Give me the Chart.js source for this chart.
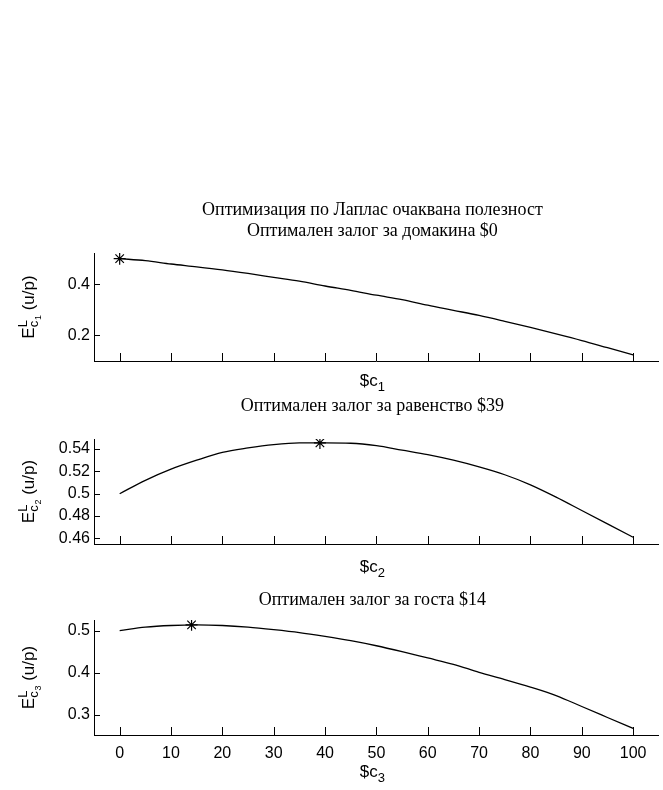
<!DOCTYPE html>
<html>
<head>
<meta charset="utf-8">
<script src="https://cdn.jsdelivr.net/npm/chart.js@4.4.1/dist/chart.umd.min.js"></script>
<style>
  html, body { margin: 0; padding: 0; background: #fff; overflow: hidden; width: 663px; height: 790px; }
  #wrap { position: relative; width: 663px; height: 790px; overflow: hidden; }
  canvas { position: absolute; left: 0; top: 0; }
</style>
</head>
<body>
<div id="wrap">
  <canvas id="hostChart" width="666" height="790"></canvas>
  <canvas id="drawChart" width="666" height="790"></canvas>
  <canvas id="guestChart" width="666" height="790"></canvas>
</div>
<script>
// Stake in dollars (x) and Laplace expected utility per outcome
const stakes = [0, 5, 10, 15, 20, 25, 30, 35, 40, 45, 50, 55, 60, 65, 70, 75, 80, 85, 90, 95, 100];
const hostUtility  = [0.500, 0.492, 0.479, 0.468, 0.456, 0.442, 0.427, 0.412, 0.393, 0.376, 0.357,
                      0.340, 0.318, 0.298, 0.278, 0.255, 0.231, 0.206, 0.180, 0.152, 0.124];
const drawUtility  = [0.500, 0.512, 0.522, 0.530, 0.537, 0.541, 0.544, 0.5455, 0.5455, 0.5452, 0.543,
                      0.539, 0.535, 0.530, 0.524, 0.517, 0.508, 0.497, 0.485, 0.473, 0.461];
const guestUtility = [0.500, 0.508, 0.512, 0.5135, 0.512, 0.508, 0.502, 0.495, 0.486, 0.476, 0.464,
                      0.450, 0.435, 0.420, 0.401, 0.384, 0.366, 0.346, 0.320, 0.294, 0.268];

// Optimal stakes (marked with an asterisk)
const hostBest  = [0, 0.500];
const drawBest  = [39, 0.5455];
const guestBest = [14, 0.5135];

// Tick labels
const stakeTicks = [0, 10, 20, 30, 40, 50, 60, 70, 80, 90, 100];
const hostTicks  = [0.2, 0.4];
const drawTicks  = [0.46, 0.48, 0.5, 0.52, 0.54];
const guestTicks = [0.3, 0.4, 0.5];

// Titles
const hostTitle  = ['Оптимизация по Лаплас очаквана полезност', 'Оптимален залог за домакина $0'];
const drawTitle  = ['Оптимален залог за равенство $39'];
const guestTitle = ['Оптимален залог за госта $14'];

const SANS = '"Liberation Sans", Arial, Helvetica, sans-serif';
const SERIF = '"Liberation Serif", "Times New Roman", serif';

// Draw a run of text pieces (with sub/superscripts) centred on (cx, cy), optionally rotated
function drawRich(ctx, parts, cx, cy, rotate) {
  ctx.save();
  ctx.translate(cx, cy);
  if (rotate) ctx.rotate(-Math.PI / 2);
  ctx.fillStyle = '#000';
  ctx.textBaseline = 'alphabetic';
  ctx.textAlign = 'left';
  let cursor = 0, stackStart = 0, stackMax = 0;
  const placed = [];
  parts.forEach(p => {
    ctx.font = p.size + 'px ' + SANS;
    const w = ctx.measureText(p.t).width;
    if (p.stack === 'start') {
      stackStart = cursor; stackMax = w;
      placed.push({p, x: cursor});
      cursor = stackStart + w;
    } else if (p.stack === 'with') {
      placed.push({p, x: stackStart});
      stackMax = Math.max(stackMax, w);
      cursor = stackStart + stackMax;
    } else {
      placed.push({p, x: cursor});
      cursor += w;
    }
  });
  const total = cursor;
  placed.forEach(({p, x}) => {
    ctx.font = p.size + 'px ' + SANS;
    ctx.fillText(p.t, x - total / 2, p.dy);
  });
  ctx.restore();
}

function yLabelParts(idx) {
  return [
    {t: 'E', size: 17, dy: 6},
    {t: 'L', size: 13, dy: -1, stack: 'start'},
    {t: 'c', size: 13, dy: 10, stack: 'with'},
    {t: idx, size: 9, dy: 13},
    {t: ' (u/p)', size: 17, dy: 6}
  ];
}

function xLabelParts(idx) {
  return [
    {t: '$c', size: 17, dy: 0},
    {t: idx, size: 13, dy: 5}
  ];
}

// Tick marks drawn inside the plot area, at the scale's own tick positions
const inwardTicks = {
  id: 'inwardTicks',
  afterDraw(chart) {
    const {ctx, chartArea: a, scales: {x, y}} = chart;
    ctx.save();
    ctx.strokeStyle = '#000';
    ctx.lineWidth = 1;
    ctx.beginPath();
    x.ticks.forEach(t => {
      const px = Math.round(x.getPixelForValue(t.value)) + 0.5;
      ctx.moveTo(px, a.bottom);
      ctx.lineTo(px, a.bottom - 8);
    });
    y.ticks.forEach(t => {
      const py = Math.round(y.getPixelForValue(t.value)) + 0.5;
      ctx.moveTo(a.left, py);
      ctx.lineTo(a.left + 6, py);
    });
    ctx.stroke();
    ctx.restore();
  }
};

// Titles and axis labels with sub/superscripts
const panelText = {
  id: 'panelText',
  afterDraw(chart, args, opts) {
    const {ctx, chartArea: a} = chart;
    const cx = (a.left + a.right) / 2 - 4;
    ctx.save();
    ctx.fillStyle = '#000';
    ctx.textAlign = 'center';
    ctx.textBaseline = 'middle';
    ctx.font = '18px ' + SERIF;
    opts.title.forEach((line, i) => {
      ctx.fillText(line, cx, a.top + opts.titleOffsets[i]);
    });
    ctx.restore();
    drawRich(ctx, xLabelParts(opts.index), cx, a.bottom + opts.xLabelOffset, false);
    drawRich(ctx, yLabelParts(opts.index), 28, (a.top + a.bottom) / 2, true);
  }
};

function makePanel(id, ys, best, yTicks, yMin, yMax, top, bottom, showX, title, titleOffsets, index, xLabelOffset) {
  const line = stakes.map((s, i) => ({x: s, y: ys[i]}));
  return new Chart(document.getElementById(id), {
    type: 'scatter',
    data: {
      datasets: [
        {data: line, showLine: true, borderColor: '#000', borderWidth: 1.3, pointRadius: 0,
         cubicInterpolationMode: 'monotone'},
        {data: [{x: best[0], y: best[1]}], showLine: false, pointStyle: 'star', pointRadius: 6,
         borderColor: '#000', borderWidth: 1.2, backgroundColor: '#000'}
      ]
    },
    options: {
      responsive: false,
      animation: false,
      events: [],
      layout: {padding: {top: top, bottom: 0, left: 0, right: 0}},
      plugins: {
        legend: {display: false},
        tooltip: {enabled: false},
        title: {display: false},
        panelText: {title: title, titleOffsets: titleOffsets, index: index, xLabelOffset: xLabelOffset}
      },
      scales: {
        x: {
          type: 'linear', position: 'bottom', min: -5, max: 105,
          afterBuildTicks: s => { s.ticks = stakeTicks.map(v => ({value: v})); },
          afterFit: s => { s.height = 790 - bottom; },
          grid: {display: true, drawOnChartArea: false, drawTicks: false},
          border: {display: true, color: '#000', width: 1},
          ticks: {display: showX, color: '#000', font: {family: SANS, size: 16}, padding: 9,
                  maxRotation: 0, autoSkip: false, callback: v => String(v)}
        },
        y: {
          type: 'linear', position: 'left', min: yMin, max: yMax,
          afterBuildTicks: s => { s.ticks = yTicks.map(v => ({value: v})); },
          afterFit: s => { s.width = 94; },
          grid: {display: true, drawOnChartArea: false, drawTicks: false},
          border: {display: true, color: '#000', width: 1},
          ticks: {color: '#000', font: {family: SANS, size: 16}, padding: 4, autoSkip: false,
                  callback: v => String(v)}
        }
      }
    },
    plugins: [inwardTicks, panelText]
  });
}

makePanel('hostChart', hostUtility, hostBest, hostTicks, 0.1, 0.522, 253, 361, false,
          hostTitle, [-43, -22], '1', 25);
makePanel('drawChart', drawUtility, drawBest, drawTicks, 0.455, 0.549, 439, 544, false,
          drawTitle, [-33], '2', 28);
makePanel('guestChart', guestUtility, guestBest, guestTicks, 0.2525, 0.525, 620, 735, true,
          guestTitle, [-20], '3', 42);
</script>
</body>
</html>
